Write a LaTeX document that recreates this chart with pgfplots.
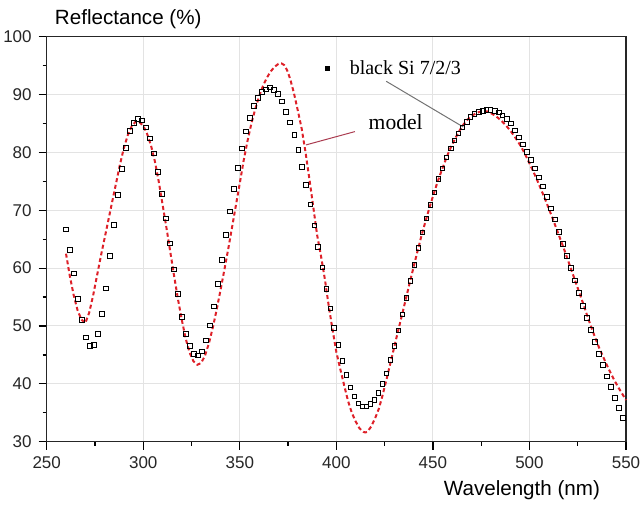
\documentclass[border=0pt]{standalone}
\usepackage{fontspec}
\setmainfont{Liberation Sans}
\newfontfamily\seriffont{Liberation Serif}
\usepackage{pgfplots}
\pgfplotsset{compat=1.18}
\usepackage{pgfplotstable}
\definecolor{modelred}{RGB}{222,32,40}
\definecolor{pointer}{RGB}{170,60,80}

\pgfplotstableread{
x y
260.0 66.7
262.0 63.1
264.0 59.1
266.2 54.7
268.3 51.0
270.3 48.0
272.4 46.5
274.5 46.7
276.5 48.6
278.6 52.1
280.7 56.5
282.8 62.1
284.8 67.5
286.9 72.6
289.0 77.1
291.0 80.8
293.1 83.7
295.2 85.1
297.2 85.8
299.3 85.5
301.4 84.3
303.4 82.4
305.5 79.8
307.6 76.6
309.7 72.8
311.7 68.6
313.8 64.3
315.9 59.8
318.0 55.5
320.1 51.6
322.2 48.6
324.3 46.5
326.4 45.2
328.4 44.9
330.5 45.6
332.6 47.5
334.6 50.1
336.7 53.4
338.8 57.3
340.8 61.4
342.9 65.7
345.0 69.8
347.0 73.7
349.1 77.3
351.2 80.7
353.3 83.6
355.3 86.0
357.4 88.0
359.5 89.4
361.5 90.5
363.6 90.9
365.7 91.2
367.8 90.8
369.9 90.1
371.9 88.8
374.0 87.0
376.1 85.2
378.2 83.0
380.3 80.4
382.3 77.5
384.4 74.4
386.5 71.0
388.6 67.4
390.6 63.7
392.7 60.1
394.8 56.4
396.9 53.0
398.9 49.7
401.0 46.7
403.1 44.0
405.2 41.5
407.2 39.4
409.3 37.8
411.4 36.6
413.5 36.1
415.5 36.1
417.6 36.5
419.7 37.2
421.8 38.4
423.8 40.0
425.9 41.8
428.0 44.1
430.1 46.5
432.2 49.2
434.2 52.0
436.3 54.8
438.4 57.8
440.5 60.6
442.5 63.5
444.6 66.2
446.7 68.6
448.8 70.9
450.8 73.1
452.9 75.4
455.0 77.2
457.1 79.1
459.2 80.7
461.2 82.1
463.3 83.3
465.4 84.3
467.5 85.3
469.5 86.1
471.6 86.6
473.7 87.0
475.8 87.2
477.8 87.3
479.9 87.3
482.0 87.2
484.1 86.9
486.1 86.4
488.2 85.8
490.3 85.0
492.4 83.8
494.5 82.6
496.5 81.4
498.6 80.1
500.7 78.7
502.8 77.2
504.8 75.7
506.9 74.1
509.0 72.3
511.1 70.3
513.1 68.4
515.2 66.3
517.3 64.2
519.4 62.1
521.4 60.0
523.5 57.9
525.6 55.7
527.7 53.5
529.8 51.4
531.8 49.3
533.9 47.2
536.0 45.2
538.1 43.3
540.1 41.3
542.2 39.5
544.3 37.6
546.4 35.8
548.4 34.1
}\measured

% model curve
\pgfplotstableread{
x y
260 62.5
262 58.6
264 55.3
266 52.7
268 51.1
270 50.5
272 52.3
274 55.2
276 58.6
278 62.0
280 65.2
282 68.4
284 71.6
286 74.8
288 78.0
290 80.8
292 83.0
294 84.5
296 85.3
297.5 85.4
300 84.6
302 83.2
304 81.2
306 78.5
308 75.0
310 71.0
312 67.0
314 62.8
316 58.6
318 54.6
320 51.0
322 47.8
324 45.4
326 43.9
328 43.3
330 43.6
332 44.9
334 47.0
336 49.7
338 52.8
340 56.2
342 59.7
344 63.3
346 67.1
348 70.9
350 74.7
352 78.6
354 82.0
356 85.0
358 87.5
360 89.7
362 91.5
364 92.9
366 94.0
368 94.8
370 95.3
371.5 95.4
373 95.1
374.5 94.2
376 92.8
378 90.3
380 87.3
382 84.2
384 80.1
386 75.5
388 70.7
390 65.8
392 62.2
394 58.2
396 53.6
398 49.4
400 45.5
402 42.6
404 39.8
406 37.1
408 35.0
410 33.5
412 32.3
414 31.7
415 31.6
416 31.7
418 32.6
420 34.0
422 35.7
424 38.1
426 40.8
428 43.6
430 46.4
432 49.2
434 51.9
436 54.7
438 57.5
440 60.2
442 62.9
444 65.5
446 67.9
448 70.2
450 72.4
452 74.5
454 76.4
456 78.2
458 79.9
460 81.4
462 82.7
464 83.9
466 84.9
468 85.7
470 86.3
472 86.7
474 87.0
476 87.1
478 87.1
480 86.8
482 86.4
484 85.9
486 85.3
488 84.6
490 83.8
492 82.9
494 81.9
496 80.8
498 79.5
500 78.1
502 76.7
504 75.2
506 73.6
508 72.0
510 70.3
512 68.6
514 66.8
516 65.0
518 63.2
520 61.3
522 59.4
524 57.5
526 55.6
528 53.7
530 51.7
532 49.8
534 48.0
536 46.3
538 44.8
540 43.3
542 41.9
544 40.6
546 39.4
548 38.3
550 37.2
}\model

\begin{document}
\begin{tikzpicture}
\begin{axis}[
  scale only axis,
  width=289.65pt,height=202.5pt,
  xmin=250,xmax=550,ymin=30,ymax=100,
  xtick={250,300,...,550},ytick={30,40,...,100},
  minor tick num=1,
  xtick pos=bottom,ytick pos=left,
  tick align=outside,
  major tick length=4pt,minor tick length=2pt,
  every tick/.style={black,line width=0.6pt},
  grid=major,grid style={gray!22,line width=0.5pt},
  axis line style={black!85,line width=0.7pt},
  tick label style={font=\fontsize{8.5}{10}\selectfont,black!85},
  /pgf/number format/assume math mode=true,
  clip=false,
]
\addplot[black,line width=0.45pt,only marks,mark=square,mark size=1.15pt] table[x=x,y=y] {\measured};
\addplot[modelred,line width=1pt,dash pattern=on 2pt off 1.4pt] table[x=x,y=y] {\model};

% annotations
\addplot[black,only marks,mark=square*,mark size=0.9pt,forget plot] coordinates {(395.3,94.5)};
\node[anchor=base west,font=\seriffont\fontsize{10}{12}\selectfont] at (axis cs:403.3,93.4) {black Si 7/2/3};
\draw[gray!90!black,line width=0.5pt] (axis cs:425.8,92.3) -- (axis cs:465.7,84.4);
\node[anchor=base west,font=\seriffont\fontsize{10.8}{12}\selectfont] at (axis cs:413.1,83.9) {model};
\draw[pointer,line width=0.5pt] (axis cs:409.6,83.6) -- (axis cs:384.3,81.3);

\node[anchor=base west,font=\fontsize{10.3}{12}\selectfont,xshift=0.6pt,yshift=6.35pt] at (rel axis cs:0,1) {Reflectance (\%)};
\node[anchor=base east,font=\fontsize{10.3}{12}\selectfont,xshift=-9.5pt,yshift=-26.65pt] at (rel axis cs:1,0) {Wavelength (nm)};
\end{axis}
\pgfresetboundingbox
\useasboundingbox (-23.35pt,-31.15pt) rectangle (296.65pt,220.85pt);
\end{tikzpicture}
\end{document}
